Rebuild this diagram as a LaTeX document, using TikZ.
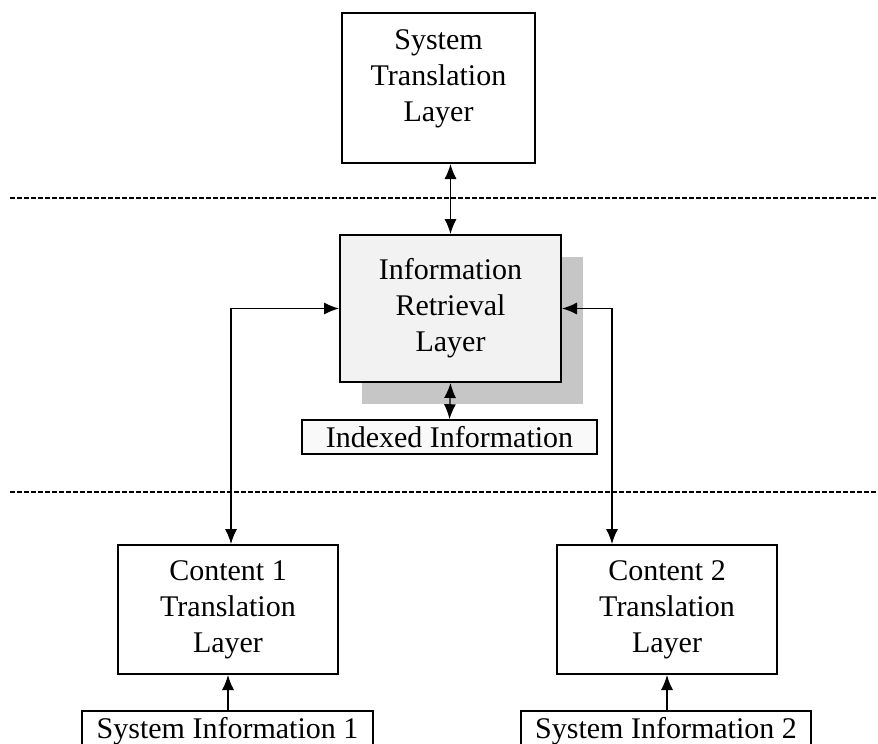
\documentclass[tikz,border=0pt]{standalone}
\usepackage{fontspec}
\setmainfont{Liberation Serif}
\usepackage{tikz}
\usetikzlibrary{arrows.meta,shadows}
\tikzstyle{layer} = [rectangle, draw, line width=2pt, align=center,
    inner sep=0pt, font=\fontsize{30}{36}\selectfont]
\tikzstyle{store} = [rectangle, draw, line width=1.6pt, inner sep=0pt,
    font=\fontsize{30}{36}\selectfont, minimum height=34pt]
\tikzstyle{link} = [line width=1.2pt, {Latex[length=15pt,width=12pt]}-{Latex[length=15pt,width=12pt]}]
\tikzstyle{feed} = [line width=1.2pt, -{Latex[length=15pt,width=12pt]}]
\tikzstyle{border} = [line width=2pt, dash pattern=on 5pt off 2pt]

\begin{document}
\begin{tikzpicture}[x=1pt, y=-1pt]
  \useasboundingbox (0,0) rectangle (878,744);
  % Place nodes
  \node [layer, text depth=24pt, minimum width=193pt, minimum height=150pt]
  (sys) at (438.5,88) {System\\Translation\\Layer};
  \node [layer, fill=gray!10, minimum width=221pt, minimum height=147pt,
  drop shadow={shadow xshift=22pt, shadow yshift=-22pt, fill=gray!45, opacity=1}]
  (retrieval) at (450.5,308.5) {Information\\Retrieval\\Layer};
  \node [store, fill=gray!5, minimum width=295pt] (indexed) at (449.5,437)
  {Indexed Information};
  \node [layer, minimum width=220pt, minimum height=129pt] (content1) at (228,609.5)
  {Content 1\\Translation\\Layer};
  \node [layer, minimum width=220pt, minimum height=129pt] (content2) at (667,609.5)
  {Content 2\\Translation\\Layer};
  \node [store, minimum width=291pt, minimum height=40pt] (sysinfo1) at (227.5,731)
  {System Information 1};
  \node [store, minimum width=290pt, minimum height=40pt] (sysinfo2) at (666,731)
  {System Information 2};
  % Layer borders
  \draw [border] (10,198) -- (878,198);
  \draw [border] (10,492) -- (878,492);
  % Draw edges
  \draw [link] (retrieval.north |- sys.south) -- (retrieval.north);
  \draw [link] (retrieval.south) -- (indexed.north);
  \draw [link] (retrieval.west) -| ([xshift=3pt]content1.north);
  \draw [link] (retrieval.east) -| ([xshift=-55pt]content2.north);
  \draw [feed] (content1.south |- sysinfo1.north) -- (content1.south);
  \draw [feed] (content2.south |- sysinfo2.north) -- (content2.south);
\end{tikzpicture}
\end{document}
